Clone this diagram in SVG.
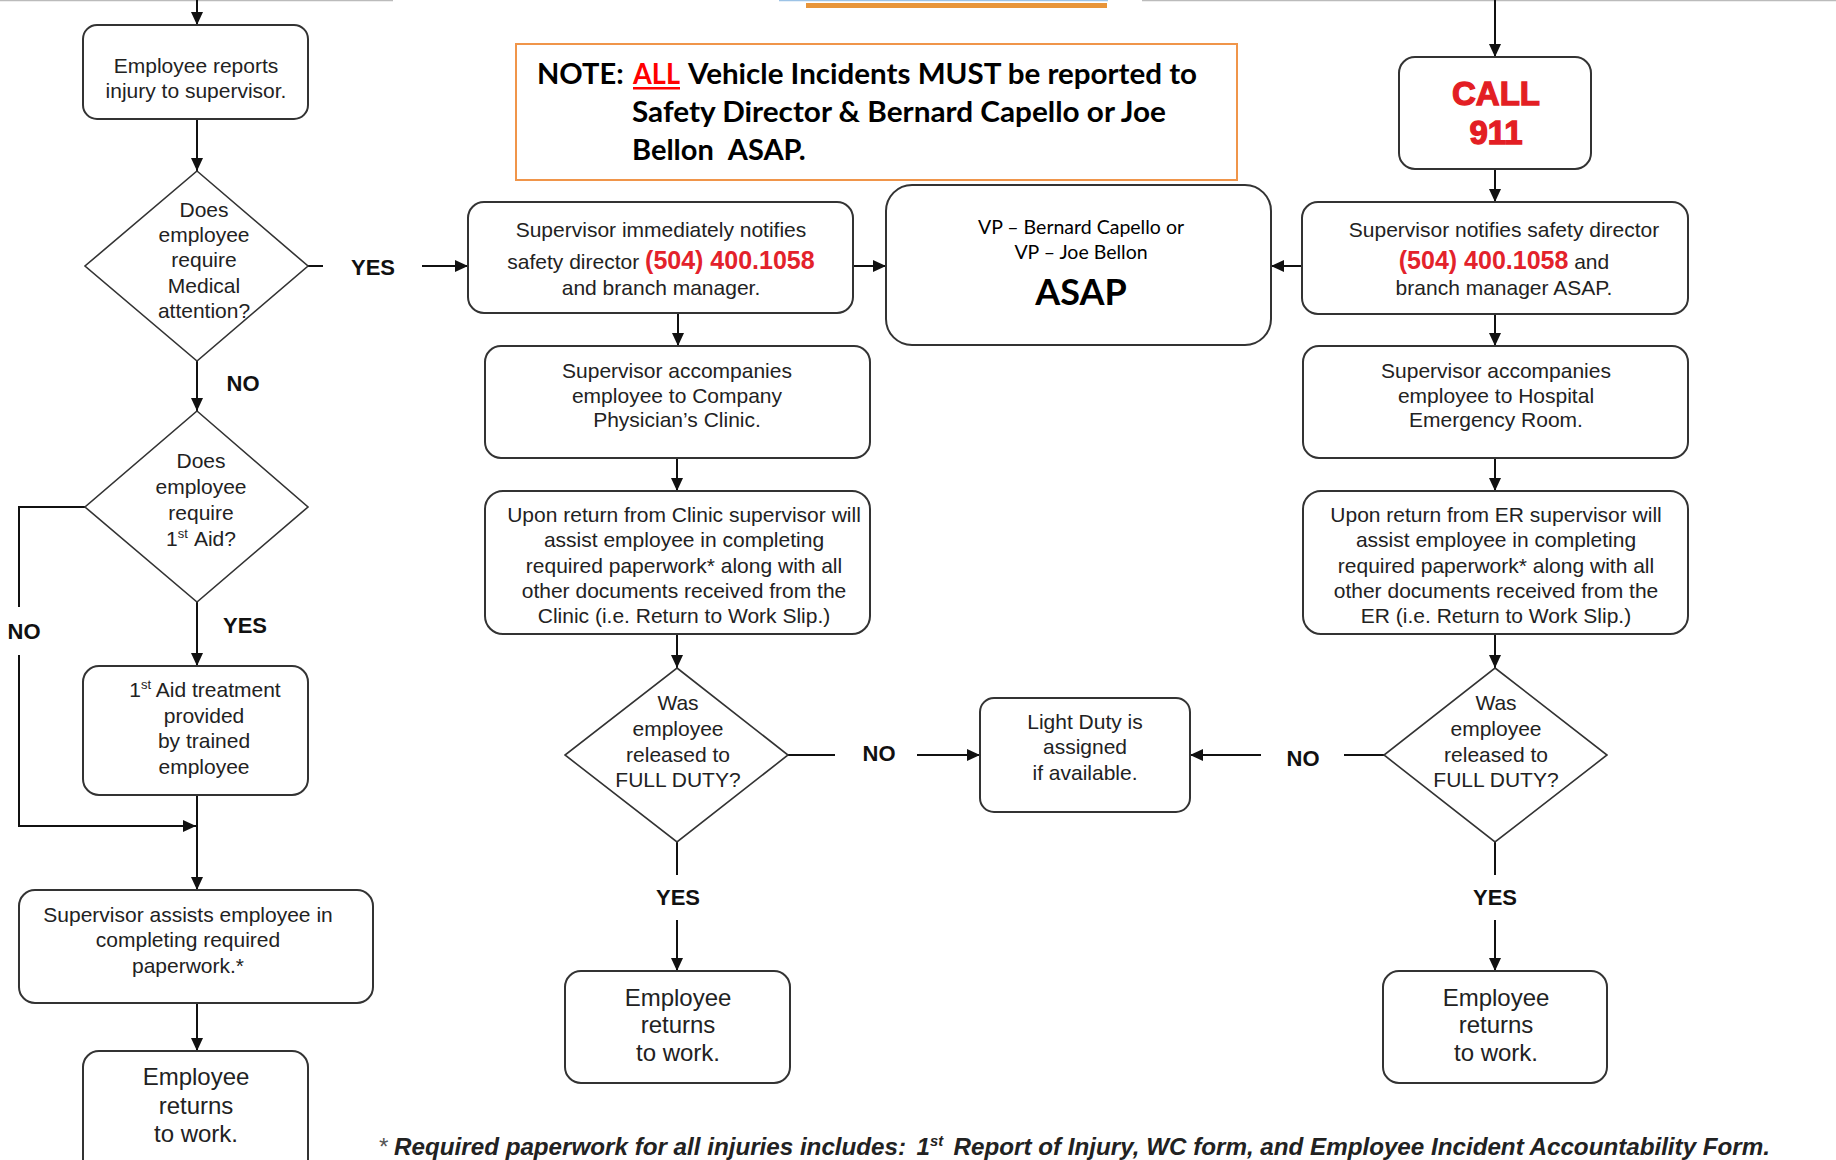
<svg xmlns="http://www.w3.org/2000/svg" width="1836" height="1160" viewBox="0 0 1836 1160">
<defs>
<marker id="ah" markerUnits="userSpaceOnUse" markerWidth="14" markerHeight="14" refX="13" refY="7" orient="auto">
<path d="M0,1 L13,7 L0,13 z" fill="#111"/>
</marker>
<style>
.box{fill:#fff;stroke:#333;stroke-width:2}
.dia{fill:#fff;stroke:#333;stroke-width:1.6}
.t{font-family:"Liberation Sans",Arial,sans-serif;font-size:21px;fill:#222;text-anchor:middle}
.big{font-size:24px}
.lbl{font-family:"Liberation Sans",Arial,sans-serif;font-size:22px;font-weight:bold;fill:#111;text-anchor:middle}
.ph{fill:#e3222b;font-weight:bold;font-size:25px}
.c{font-family:Lato,"Open Sans",sans-serif;fill:#000}
.ln{fill:none;stroke:#111;stroke-width:2}
.ar{fill:none;stroke:#111;stroke-width:2;marker-end:url(#ah)}
.call{font-family:"Liberation Sans",Arial,sans-serif;font-size:33px;font-weight:bold;fill:#e31e24;stroke:#e31e24;stroke-width:1.3;text-anchor:middle}
</style>
</defs>
<rect width="1836" height="1160" fill="#fff"/>
<!-- cut-off elements at top edge -->
<g id="top-edge">
<line x1="0" y1="0.5" x2="393" y2="0.5" stroke="#bbb" stroke-width="1.5"/>
<line x1="779" y1="0.5" x2="1108" y2="0.5" stroke="#9dc3e6" stroke-width="1.5"/>
<rect x="806" y="3" width="301" height="5" fill="#e8953a"/>
<line x1="1142" y1="0.5" x2="1836" y2="0.5" stroke="#bbb" stroke-width="1.5"/>
</g>

<g id="connectors">
<path class="ar" d="M197,0 V25"/>
<path class="ar" d="M197,119 V171"/>
<path class="ln" d="M307,266 H323"/>
<path class="ar" d="M422,266 H468"/>
<path class="ar" d="M197,361 V411"/>
<path class="ln" d="M85,507 H19 V607"/>
<path class="ar" d="M19,655 V826 H196"/>
<path class="ar" d="M197,602 V666"/>
<path class="ar" d="M197,795 V890"/>
<path class="ar" d="M197,1003 V1051"/>
<path class="ar" d="M853,266 H886"/>
<path class="ar" d="M1302,266 H1271"/>
<path class="ar" d="M678,313 V346"/>
<path class="ar" d="M677,458 V491"/>
<path class="ar" d="M677,634 V668"/>
<path class="ln" d="M788,755 H835"/>
<path class="ar" d="M917,755 H980"/>
<path class="ln" d="M1384,755 H1344"/>
<path class="ar" d="M1261,755 H1190"/>
<path class="ln" d="M677,842 V875"/>
<path class="ar" d="M677,920 V971"/>
<path class="ln" d="M1495,842 V875"/>
<path class="ar" d="M1495,920 V971"/>
<path class="ar" d="M1495,0 V57"/>
<path class="ar" d="M1495,169 V202"/>
<path class="ar" d="M1495,314 V346"/>
<path class="ar" d="M1495,458 V491"/>
<path class="ar" d="M1495,634 V668"/>
</g>

<g id="labels">
<text class="lbl" x="373" y="275">YES</text>
<text class="lbl" x="243" y="391">NO</text>
<text class="lbl" x="24" y="639">NO</text>
<text class="lbl" x="245" y="633">YES</text>
<text class="lbl" x="879" y="761">NO</text>
<text class="lbl" x="1303" y="766">NO</text>
<text class="lbl" x="678" y="905">YES</text>
<text class="lbl" x="1495" y="905">YES</text>
</g>

<g id="note">
<rect x="516" y="44" width="721" height="136" fill="#fff" stroke="#f0954a" stroke-width="2"/>
<text class="c" font-size="29" font-weight="bold" x="537" y="84">NOTE:</text>
<text class="c" font-size="29" font-weight="bold" x="633" y="84" style="fill:#f00" textLength="47" lengthAdjust="spacingAndGlyphs">ALL</text>
<rect x="633" y="87" width="47" height="2.5" fill="#f00"/>
<text class="c" font-size="29" font-weight="bold" x="688" y="84" textLength="509" lengthAdjust="spacingAndGlyphs">Vehicle Incidents MUST be reported to</text>
<text class="c" font-size="29" font-weight="bold" x="632" y="122" textLength="534" lengthAdjust="spacingAndGlyphs">Safety Director &amp; Bernard Capello or Joe</text>
<text class="c" font-size="29" font-weight="bold" x="632" y="160">Bellon<tspan dx="14">ASAP.</tspan></text>
</g>

<g id="n-report">
<rect class="box" x="83" y="25" width="225" height="94" rx="14"/>
<text class="t" x="196" y="73">Employee reports</text>
<text class="t" x="196" y="98">injury to supervisor.</text>
</g>

<g id="d-medical">
<polygon class="dia" points="197,171 308,266 197,361 85,266"/>
<text class="t" x="204" y="217">Does</text>
<text class="t" x="204" y="242">employee</text>
<text class="t" x="204" y="267">require</text>
<text class="t" x="204" y="293">Medical</text>
<text class="t" x="204" y="318">attention?</text>
</g>

<g id="d-firstaid">
<polygon class="dia" points="197,411 308,507 197,602 85,507"/>
<text class="t" x="201" y="468">Does</text>
<text class="t" x="201" y="494">employee</text>
<text class="t" x="201" y="520">require</text>
<text class="t" x="201" y="546">1<tspan font-size="13" dy="-8">st</tspan><tspan dy="8" dx="6">Aid?</tspan></text>
</g>

<g id="n-firstaid">
<rect class="box" x="83" y="666" width="225" height="129" rx="16"/>
<text class="t" x="205" y="697">1<tspan font-size="13" dy="-8">st</tspan><tspan dy="8"> Aid treatment</tspan></text>
<text class="t" x="204" y="723">provided</text>
<text class="t" x="204" y="748">by trained</text>
<text class="t" x="204" y="774">employee</text>
</g>

<g id="n-assist">
<rect class="box" x="19" y="890" width="354" height="113" rx="16"/>
<text class="t" x="188" y="922">Supervisor assists employee in</text>
<text class="t" x="188" y="947">completing required</text>
<text class="t" x="188" y="973">paperwork.*</text>
</g>

<g id="n-return-left">
<rect class="box" x="83" y="1051" width="225" height="130" rx="16"/>
<text class="t big" x="196" y="1085">Employee</text>
<text class="t big" x="196" y="1114">returns</text>
<text class="t big" x="196" y="1142">to work.</text>
</g>

<g id="n-notify-mid">
<rect class="box" x="468" y="202" width="385" height="111" rx="16"/>
<text class="t" x="661" y="237">Supervisor immediately notifies</text>
<text class="t" x="661" y="269">safety director <tspan class="ph">(504) 400.1058</tspan></text>
<text class="t" x="661" y="295">and branch manager.</text>
</g>

<g id="n-vp">
<rect class="box" x="886" y="185" width="385" height="160" rx="26"/>
<text class="c" font-size="19.5" x="1081" y="234" text-anchor="middle">VP – Bernard Capello<tspan dx="5">or</tspan></text>
<text class="c" font-size="19.5" x="1081" y="259" text-anchor="middle">VP – Joe Bellon</text>
<text class="c" font-size="36" font-weight="bold" x="1081" y="305" text-anchor="middle">ASAP</text>
</g>

<g id="n-call">
<rect class="box" x="1399" y="57" width="192" height="112" rx="16"/>
<text class="call" x="1496" y="105">CALL</text>
<text class="call" x="1496" y="144">911</text>
</g>

<g id="n-notify-right">
<rect class="box" x="1302" y="202" width="386" height="112" rx="16"/>
<text class="t" x="1504" y="237">Supervisor notifies safety director</text>
<text class="t" x="1504" y="269"><tspan class="ph">(504) 400.1058</tspan> and</text>
<text class="t" x="1504" y="295">branch manager ASAP.</text>
</g>

<g id="n-clinic">
<rect class="box" x="485" y="346" width="385" height="112" rx="16"/>
<text class="t" x="677" y="378">Supervisor accompanies</text>
<text class="t" x="677" y="403">employee to Company</text>
<text class="t" x="677" y="427">Physician’s Clinic.</text>
</g>

<g id="n-clinic-return">
<rect class="box" x="485" y="491" width="385" height="143" rx="18"/>
<text class="t" x="684" y="522">Upon return from Clinic supervisor will</text>
<text class="t" x="684" y="547">assist employee in completing</text>
<text class="t" x="684" y="573">required paperwork* along with all</text>
<text class="t" x="684" y="598">other documents received from the</text>
<text class="t" x="684" y="623">Clinic (i.e. Return to Work Slip.)</text>
</g>

<g id="d-full-mid">
<polygon class="dia" points="677,668 788,755 677,842 565,755"/>
<text class="t" x="678" y="710">Was</text>
<text class="t" x="678" y="736">employee</text>
<text class="t" x="678" y="762">released to</text>
<text class="t" x="678" y="787">FULL DUTY?</text>
</g>

<g id="n-lightduty">
<rect class="box" x="980" y="698" width="210" height="114" rx="14"/>
<text class="t" x="1085" y="729">Light Duty is</text>
<text class="t" x="1085" y="754">assigned</text>
<text class="t" x="1085" y="780">if available.</text>
</g>

<g id="n-return-mid">
<rect class="box" x="565" y="971" width="225" height="112" rx="16"/>
<text class="t big" x="678" y="1006">Employee</text>
<text class="t big" x="678" y="1033">returns</text>
<text class="t big" x="678" y="1061">to work.</text>
</g>

<g id="n-er">
<rect class="box" x="1303" y="346" width="385" height="112" rx="16"/>
<text class="t" x="1496" y="378">Supervisor accompanies</text>
<text class="t" x="1496" y="403">employee to Hospital</text>
<text class="t" x="1496" y="427">Emergency Room.</text>
</g>

<g id="n-er-return">
<rect class="box" x="1303" y="491" width="385" height="143" rx="18"/>
<text class="t" x="1496" y="522">Upon return from ER supervisor will</text>
<text class="t" x="1496" y="547">assist employee in completing</text>
<text class="t" x="1496" y="573">required paperwork* along with all</text>
<text class="t" x="1496" y="598">other documents received from the</text>
<text class="t" x="1496" y="623">ER (i.e. Return to Work Slip.)</text>
</g>

<g id="d-full-right">
<polygon class="dia" points="1495,668 1607,755 1495,842 1384,755"/>
<text class="t" x="1496" y="710">Was</text>
<text class="t" x="1496" y="736">employee</text>
<text class="t" x="1496" y="762">released to</text>
<text class="t" x="1496" y="787">FULL DUTY?</text>
</g>

<g id="n-return-right">
<rect class="box" x="1383" y="971" width="224" height="112" rx="16"/>
<text class="t big" x="1496" y="1006">Employee</text>
<text class="t big" x="1496" y="1033">returns</text>
<text class="t big" x="1496" y="1061">to work.</text>
</g>

<g id="footnote">
<text x="378" y="1155" font-family="Liberation Sans, Arial, sans-serif" font-size="23" font-style="italic" font-weight="bold" fill="#222" textLength="1392" lengthAdjust="spacingAndGlyphs"><tspan font-weight="normal" fill="#555">*</tspan> Required paperwork for all injuries includes:<tspan dx="10">1</tspan><tspan font-size="14" dy="-9">st</tspan><tspan dy="9" dx="10">Report of Injury, WC form, and Employee Incident Accountability Form.</tspan></text>
</g>
</svg>
